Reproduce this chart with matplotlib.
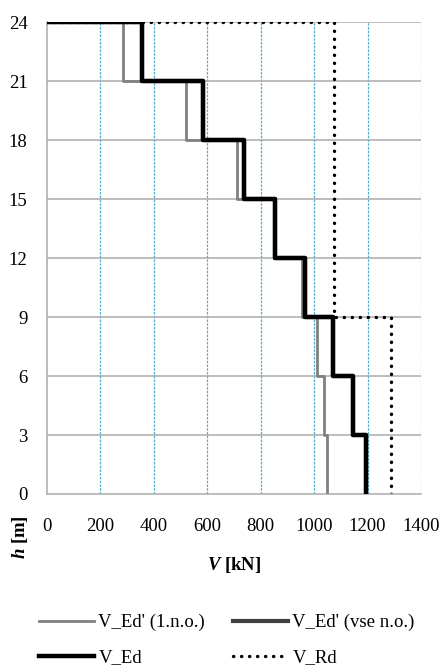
import numpy as np
import matplotlib
matplotlib.use("Agg")
import matplotlib.pyplot as plt

# Storey boundaries [m] and shear values per storey (bottom to top) [kN]
heights = [0, 3, 6, 9, 12, 15, 18, 21, 24]
v_ed_1 = [1049, 1037, 1011, 955, 850, 711, 520, 285]
v_ed_all = [1195, 1146, 1071, 966, 853, 737, 584, 356]
v_ed = [1195, 1146, 1071, 966, 853, 737, 584, 356]
v_rd = [1288, 1288, 1288, 1075, 1075, 1075, 1075, 1075]
x_ticks = [0, 200, 400, 600, 800, 1000, 1200, 1400]
y_ticks = [0, 3, 6, 9, 12, 15, 18, 21, 24]


def storey_steps(values, h):
    """Build a stepped profile: constant value over each storey, closing at V=0 on top."""
    xs, ys = [], []
    for i, v in enumerate(values):
        xs += [v, v]
        ys += [h[i], h[i + 1]]
    xs.append(0)
    ys.append(h[-1])
    return xs, ys


plt.rcParams["font.family"] = ["Liberation Serif", "DejaVu Serif"]
plt.rcParams["mathtext.fontset"] = "custom"
plt.rcParams["mathtext.rm"] = "Liberation Serif"
plt.rcParams["mathtext.bf"] = "Liberation Serif:bold:italic"
fs = 13.5

fig = plt.figure(figsize=(4.45, 6.65), dpi=100)
W, H = 445, 665
ax = fig.add_axes([47 / W, 1 - 494 / H, (421 - 47) / W, (494 - 22) / H])

ax.set_xlim(0, 1400)
ax.set_ylim(0, 24)
ax.set_xticks(x_ticks)
ax.set_yticks(y_ticks)

# grid: finely dashed teal verticals, solid grey horizontals
for xv in x_ticks[1:]:
    ax.axvline(xv, color="#4bb0cc", lw=0.9, ls=(0, (2, 1)), zorder=1)
for yv in y_ticks[1:]:
    ax.axhline(yv, color="#ababab", lw=1.1, zorder=1)

for s in ["top", "right"]:
    ax.spines[s].set_visible(False)
for s in ["left", "bottom"]:
    ax.spines[s].set_color("#ababab")
    ax.spines[s].set_linewidth(1.1)
ax.tick_params(length=0, labelsize=fs)
ax.tick_params(axis="x", pad=17)
ax.tick_params(axis="y", pad=14)

xs, ys = storey_steps(v_ed_1, heights)
l1, = ax.plot(xs, ys, color="#808080", lw=2.0, label="V_Ed' (1.n.o.)", zorder=3)
xs, ys = storey_steps(v_ed_all, heights)
l2, = ax.plot(xs, ys, color="#404040", lw=3.0, label="V_Ed' (vse n.o.)", zorder=3)
xs, ys = storey_steps(v_ed, heights)
l3, = ax.plot(xs, ys, color="black", lw=3.2, label="V_Ed", zorder=4)
xs, ys = storey_steps(v_rd, heights)
l4, = ax.plot(xs, ys, color="black", lw=2.4, ls=(0, (0.1, 2.3)),
              dash_capstyle="round", label="V_Rd", zorder=2)

fig.text(234 / W, 1 - 565 / H, r"$\mathbf{V}$ [kN]", ha="center", va="center",
         fontsize=fs, fontweight="bold")
fig.text(20 / W, 1 - 537 / H, r"$\mathbf{h}$ [m]", ha="center", va="center",
         fontsize=fs, fontweight="bold", rotation=90)

handles = [l1, l3, l2, l4]
fig.legend(handles, [h.get_label() for h in handles], loc="center left",
           bbox_to_anchor=(30 / W, 1 - 640 / H), ncol=2,
           frameon=False, fontsize=fs, handlelength=2.9, handletextpad=0.25,
           columnspacing=1.5, labelspacing=0.95, borderpad=0)

fig.savefig("out.png", dpi=100)
